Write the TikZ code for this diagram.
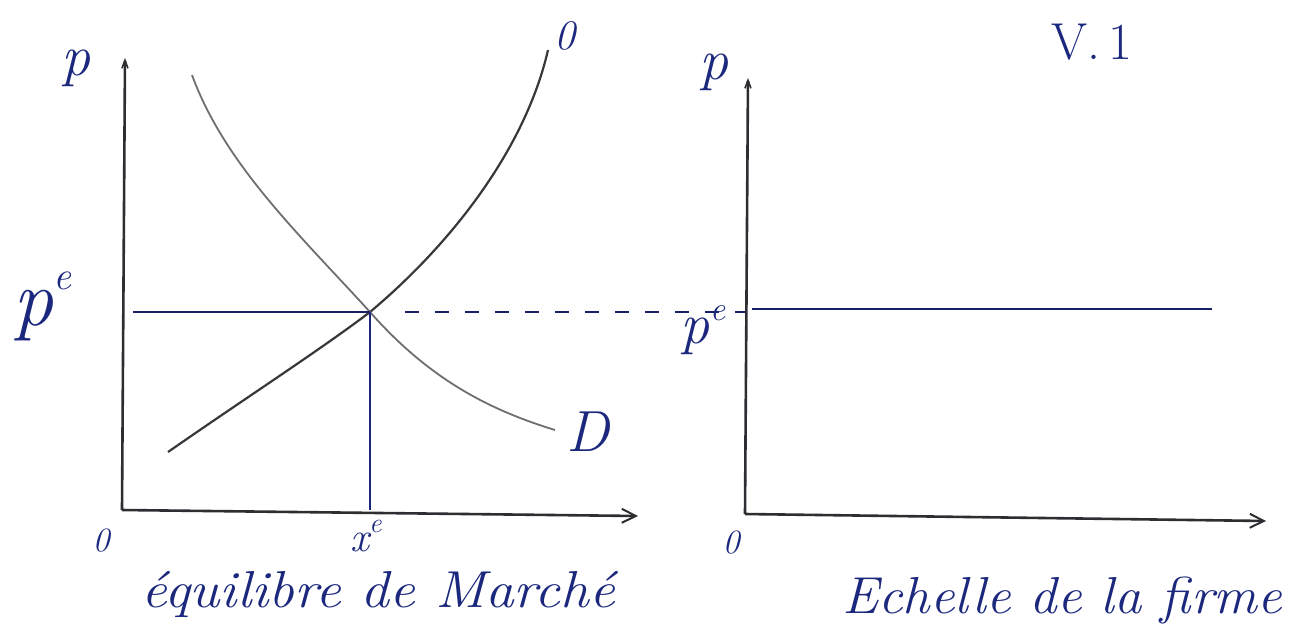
\documentclass[tikz,border=0pt]{standalone}
\usetikzlibrary{arrows.meta}
\definecolor{ink}{RGB}{28,40,125}
\definecolor{axisc}{RGB}{45,45,50}
\definecolor{supc}{RGB}{55,55,60}
\definecolor{demc}{RGB}{110,110,115}
\tikzset{
  axisline/.style={draw=axisc, line width=2.6pt},
  axisarrow/.style={axisline, -{Straight Barb[length=14pt,width=14pt,line width=2pt]}},
  yarrow/.style={axisline, -{Straight Barb[length=8pt,width=6pt,line width=1.6pt]}},
  supply/.style={draw=supc, line width=2.2pt},
  demand/.style={draw=demc, line width=1.8pt},
  peline/.style={draw=ink!80!black, line width=2.8pt},
  xeline/.style={draw=ink, line width=1.6pt},
  dashline/.style={draw=ink!80!black, line width=2.2pt, dash pattern=on 14pt off 16pt},
  labtxt/.style={text=ink, inner sep=0pt},
  hugel/.style={labtxt, font=\fontsize{80}{84}\selectfont\itshape},
  bigl/.style={labtxt, font=\fontsize{58}{62}\selectfont\itshape},
  medl/.style={labtxt, font=\fontsize{42}{46}\selectfont\itshape},
  smalll/.style={labtxt, font=\fontsize{34}{38}\selectfont\itshape},
  titl/.style={labtxt, font=\fontsize{52}{58}\selectfont\itshape},
}
\begin{document}
\begin{tikzpicture}[x=1pt,y=-1pt]
\useasboundingbox (0,0) rectangle (1301,625);
% left panel coordinates
\coordinate (O1) at (122,510);
\coordinate (Y1) at (125,58);
\coordinate (X1) at (638,516);
\coordinate (E) at (370,312);
\coordinate (Xe) at (370,510);
\coordinate (Pl) at (133,312);
\coordinate (Ds) at (405,312);
\coordinate (S0) at (168,452);
\coordinate (S1) at (548,50);
\coordinate (D0) at (192,75);
\coordinate (D1) at (555,430);
% right panel coordinates
\coordinate (O2) at (745,514);
\coordinate (Y2) at (748,78);
\coordinate (X2) at (1266,521);
\coordinate (Pr) at (752,309);
\coordinate (Pe) at (1212,309);
\coordinate (De) at (745,312);
% axes
\draw[yarrow] (O1) -- (Y1);
\draw[axisarrow] (O1) -- (X1);
\draw[yarrow] (O2) -- (Y2);
\draw[axisarrow] (O2) -- (X2);
% curves
\draw[supply] (S0) .. controls (250,395) and (320,350) .. (E)
              .. controls (450,245) and (525,150) .. (S1);
\draw[demand] (D0) .. controls (225,165) and (300,235) .. (E)
              .. controls (430,380) and (490,410) .. (D1);
% equilibrium lines
\draw[peline] (Pl) -- (E);
\draw[xeline] (E) -- (Xe);
\draw[dashline] (Ds) -- (De);
\draw[peline] (Pr) -- (Pe);
% labels left
\node[bigl] (pl) at (76,68) {p};
\node[medl] (ol) at (565,36) {0};
\node[bigl] (dl) at (588,432) {D};
\node[hugel] (pel) at (42,306) {p\raisebox{0.45em}{\fontsize{40}{44}\selectfont e}};
\node[smalll] (zl) at (101,541) {0};
\node[medl] (xel) at (366,536) {x\raisebox{0.45em}{\fontsize{28}{32}\selectfont e}};
\node[titl, xscale=1.1] (t1) at (378,594) {équilibre de Marché};
% labels right
\node[bigl] (pr) at (714,72) {p};
\node[bigl] (per) at (703,330) {p\raisebox{0.4em}{\fontsize{34}{38}\selectfont e}};
\node[smalll] (zr) at (731,543) {0};
\node[titl, xscale=1.05] (t2) at (1062,600) {Echelle de la firme};
\node[titl] (vt) at (1092,42) {\upshape V.\,1};
\end{tikzpicture}
\end{document}
